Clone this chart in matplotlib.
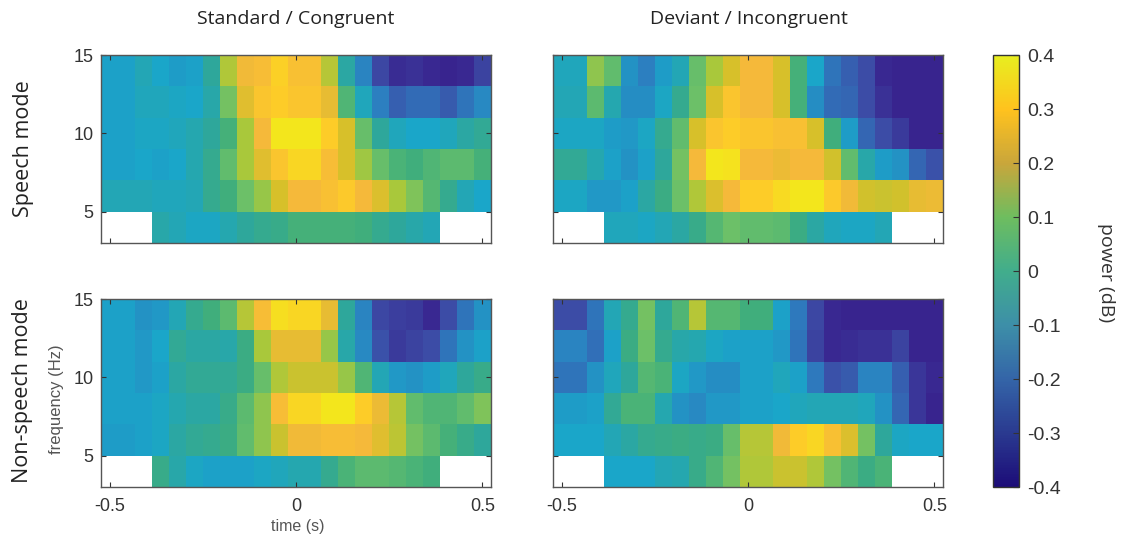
#!/usr/bin/env python3
# -*- coding: utf-8 -*-
import numpy as np
import matplotlib
matplotlib.use("Agg")
import matplotlib.pyplot as plt
from matplotlib.colors import LinearSegmentedColormap, Normalize
from matplotlib.cm import ScalarMappable

n = np.nan

# rows run from top (13-15 Hz) to bottom (3-5 Hz), 23 time bins each
standard_speech = [
    [-.13,-.13,-.09,-.12,-.14,-.13,-.05,.16,.27,.29,.34,.30,.30,.17,-.06,-.19,-.31,-.37,-.36,-.38,-.39,-.38,-.32],
    [-.13,-.13,-.10,-.10,-.11,-.12,-.07,.09,.24,.31,.33,.31,.31,.25,.03,-.10,-.20,-.26,-.24,-.24,-.27,-.22,-.18],
    [-.13,-.13,-.11,-.11,-.10,-.08,-.05,.01,.15,.28,.39,.39,.39,.33,.22,.07,-.05,-.10,-.12,-.12,-.10,-.06,-.04],
    [-.13,-.13,-.12,-.13,-.12,-.08,-.03,.06,.15,.24,.31,.35,.35,.29,.22,.14,.07,.02,.00,.03,.05,.05,.01],
    [-.09,-.09,-.09,-.10,-.10,-.09,-.03,.00,.08,.13,.22,.28,.28,.30,.32,.28,.23,.15,.10,.04,-.03,-.09,-.12],
    [n,n,n,-.07,-.09,-.11,-.11,-.08,-.05,-.03,-.02,.01,.01,.01,.01,.00,-.03,-.05,-.07,-.09,n,n,n],
]
deviant_speech = [
    [-.10,-.10,.12,.06,-.16,-.20,-.14,-.09,.07,.15,.22,.28,.28,.22,.01,-.12,-.22,-.26,-.30,-.38,-.39,-.39,-.39],
    [-.09,-.09,.05,-.08,-.17,-.17,-.11,-.03,.08,.22,.31,.28,.28,.22,.01,-.17,-.24,-.25,-.30,-.36,-.39,-.39,-.39],
    [-.11,-.11,-.11,-.14,-.15,-.11,-.03,.06,.22,.31,.33,.31,.31,.30,.30,.22,.00,-.14,-.25,-.30,-.34,-.39,-.39],
    [-.04,-.04,-.08,-.13,-.16,-.13,-.05,.09,.28,.39,.38,.28,.28,.26,.28,.28,.21,.06,-.07,-.14,-.16,-.25,-.29],
    [-.11,-.11,-.15,-.15,-.13,-.06,-.01,.08,.16,.23,.28,.33,.33,.36,.39,.39,.32,.27,.21,.20,.21,.25,.26],
    [n,n,n,-.10,-.10,-.11,-.09,-.06,-.02,.04,.08,.06,.06,.05,-.01,-.06,-.10,-.11,-.11,-.09,n,n,n],
]
standard_nonspeech = [
    [-.13,-.13,-.16,-.15,-.09,-.03,.00,.05,.17,.29,.37,.35,.35,.25,-.05,-.19,-.31,-.33,-.34,-.38,-.30,-.22,-.16],
    [-.13,-.13,-.15,-.12,-.04,-.06,-.06,-.07,-.01,.15,.25,.25,.25,.13,-.07,-.18,-.29,-.34,-.32,-.30,-.22,-.16,-.13],
    [-.13,-.13,-.15,-.13,-.06,-.04,-.04,-.04,-.01,.07,.16,.20,.20,.20,.13,.03,-.09,-.15,-.16,-.14,-.10,-.05,-.02],
    [-.13,-.13,-.13,-.11,-.08,-.06,-.06,-.02,.05,.12,.29,.35,.35,.39,.39,.33,.26,.17,.06,.03,.03,.06,.10],
    [-.14,-.14,-.13,-.11,-.06,-.04,-.03,-.01,.06,.12,.20,.27,.27,.29,.29,.28,.24,.18,.09,.05,.01,-.02,-.05],
    [n,n,n,-.02,-.07,-.11,-.13,-.13,-.13,-.11,-.10,-.08,-.08,-.03,.02,.05,.05,.04,.02,.00,n,n,n],
]
deviant_nonspeech = [
    [-.30,-.30,-.22,-.09,-.03,.09,-.05,.03,.17,.04,.04,.00,.00,-.13,-.21,-.31,-.38,-.39,-.39,-.39,-.39,-.39,-.39],
    [-.19,-.19,-.23,-.13,-.01,.08,-.03,-.07,-.08,-.11,-.13,-.13,-.13,-.15,-.22,-.32,-.38,-.37,-.36,-.36,-.32,-.39,-.39],
    [-.22,-.22,-.16,-.10,-.05,.04,.02,-.11,-.15,-.17,-.17,-.13,-.13,-.10,-.13,-.21,-.29,-.27,-.19,-.19,-.26,-.35,-.38],
    [-.14,-.14,-.13,-.04,.02,.02,-.08,-.16,-.18,-.15,-.15,-.13,-.13,-.12,-.10,-.09,-.09,-.09,-.10,-.16,-.25,-.35,-.39],
    [-.12,-.12,-.12,-.09,-.06,-.03,-.02,-.01,-.02,-.01,.07,.17,.17,.27,.33,.35,.30,.23,.09,-.05,-.11,-.12,-.12],
    [n,n,n,-.12,-.12,-.12,-.09,-.08,-.02,.03,.09,.16,.16,.20,.20,.16,.09,.03,-.01,.02,n,n,n],
]

column_titles = ["Standard / Congruent", "Deviant / Incongruent"]
row_titles = ["Speech mode", "Non-speech mode"]
x_ticks = [-0.5, 0, 0.5]
y_ticks = [5, 10, 15]
cbar_ticks = [-0.4, -0.3, -0.2, -0.1, 0, 0.1, 0.2, 0.3, 0.4]
cbar_labels = ["-0.4", "-0.3", "-0.2", "-0.1", "0", "0.1", "0.2", "0.3", "0.4"]

plt.rcParams["font.family"] = ["Liberation Sans", "DejaVu Sans"]
text_color = "#333333"

# colours picked by eye from the heat maps, and separately from the colour bar
panel_colors = [(-.40,"#38208c"),(-.30,"#3c4ca6"),(-.20,"#2c7fc0"),(-.12,"#1aa6c9"),
                (-.05,"#2ea79c"),(0,"#3fae7c"),(.08,"#6cc068"),(.15,"#a8c83c"),
                (.22,"#d6c02a"),(.28,"#f5b93a"),(.33,"#fdcc28"),(.40,"#f2ea1a")]
bar_colors = [(-.40,"#1c0c78"),(-.30,"#2a3a90"),(-.20,"#3465a8"),(-.10,"#3d8fa8"),
              (0,"#41ad8c"),(.10,"#6ebd5f"),(.20,"#c9a63b"),(.30,"#ffc21e"),(.40,"#e8ee1f")]


def make_cmap(name, pairs):
    return LinearSegmentedColormap.from_list(
        name, [((v + 0.4) / 0.8, c) for v, c in pairs], N=256)


panel_cmap = make_cmap("panel", panel_colors)
panel_cmap.set_bad("white")
bar_cmap = make_cmap("bar", bar_colors)
norm = Normalize(-0.4, 0.4)

W, H = 1130, 537
fig = plt.figure(figsize=(W / 100, H / 100), dpi=100)


def axes_px(x0, y0, x1, y1):
    return fig.add_axes([x0 / W, 1 - y1 / H, (x1 - x0) / W, (y1 - y0) / H])


time_edges = np.linspace(-0.523, 0.523, 24)
freq_edges = np.arange(15, 2, -2)

panels = [
    (standard_speech, (101, 55, 491, 243), True, False),
    (deviant_speech, (553, 55, 943, 243), False, False),
    (standard_nonspeech, (101, 299, 491, 487), True, True),
    (deviant_nonspeech, (553, 299, 943, 487), False, True),
]

for values, box, show_y, show_x in panels:
    ax = axes_px(*box)
    ax.pcolormesh(time_edges, freq_edges, np.ma.masked_invalid(values),
                  cmap=panel_cmap, norm=norm, shading="flat")
    ax.set_xlim(time_edges[0], time_edges[-1])
    ax.set_ylim(3, 15)
    ax.set_xticks(x_ticks)
    ax.set_yticks(y_ticks)
    ax.set_xticklabels(["-0.5", "0", "0.5"] if show_x else [])
    ax.set_yticklabels(["5", "10", "15"] if show_y else [])
    ax.tick_params(direction="in", top=True, right=True, length=3.5, width=0.8,
                   color="#333333", labelsize=13, labelcolor=text_color)
    ax.tick_params(axis="x", pad=8)
    ax.tick_params(axis="y", pad=5.5)
    for s in ax.spines.values():
        s.set_color("#555555")
        s.set_linewidth(1.0)

title_font = ["Open Sans", "DejaVu Sans"]
fig.text(296 / W, 1 - 19 / H, column_titles[0], ha="center", va="center",
         fontsize=14, color="#222222", family=title_font)
fig.text(749 / W, 1 - 19 / H, column_titles[1], ha="center", va="center",
         fontsize=14, color="#222222", family=title_font)
fig.text(23 / W, 1 - 149 / H, row_titles[0], rotation=90, ha="center", va="center",
         fontsize=15.5, color="#222222", family=title_font)
fig.text(23 / W, 1 - 391 / H, row_titles[1], rotation=90, ha="center", va="center",
         fontsize=15.5, color="#222222", family=title_font)
fig.text(298 / W, 1 - 527 / H, "time (s)", ha="center", va="center",
         fontsize=11.5, color="#555555")
fig.text(57 / W, 1 - 399 / H, "frequency (Hz)", rotation=90, ha="center", va="center",
         fontsize=12, color="#555555")

cax = axes_px(993, 55, 1019, 487)
cb = fig.colorbar(ScalarMappable(norm=norm, cmap=bar_cmap), cax=cax)
cb.set_ticks(cbar_ticks)
cb.set_ticklabels(cbar_labels)
cb.ax.tick_params(direction="in", length=4, width=0.8, color="#333333",
                  labelsize=14, labelcolor=text_color, pad=6)
cb.outline.set_edgecolor("#333333")
cb.outline.set_linewidth(1.0)
fig.text(1106 / W, 1 - 273 / H, "power (dB)", rotation=270, ha="center", va="center",
         fontsize=14, color=text_color, family=title_font)

fig.savefig("out.png", dpi=100)
